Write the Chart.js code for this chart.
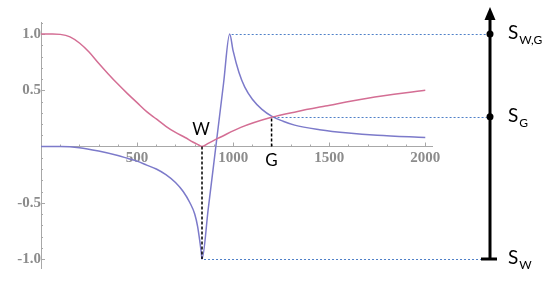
<!DOCTYPE html>
<html>
<head>
<meta charset="utf-8">
<script src="https://cdn.jsdelivr.net/npm/chart.js@4.4.1/dist/chart.umd.min.js"></script>
<style>
  html, body { margin: 0; padding: 0; background: #fff; }
</style>
</head>
<body>
<canvas id="resChart" width="550" height="285"></canvas>
<script>
// pink curve
const pinkX = [0, 60, 100, 151, 200, 250, 300, 350, 400, 450, 500, 550, 600, 650, 700, 750, 790, 818, 838, 870, 900, 930, 1040, 1200, 1330, 1480, 1700, 2000];
const pinkY = [1.0, 1.0, 0.997, 0.975, 0.92, 0.84, 0.74, 0.645, 0.555, 0.47, 0.39, 0.31, 0.245, 0.18, 0.125, 0.08, 0.04, 0.016, 0.0, 0.028, 0.055, 0.08, 0.17, 0.26, 0.31, 0.36, 0.43, 0.5];

// blue curve
const blueX = [0, 100, 200, 300, 400, 450, 500, 550, 600, 650, 700, 740, 775, 800, 815, 828, 834, 838, 870, 910, 950, 982, 1000, 1030, 1060, 1100, 1150, 1200, 1260, 1320, 1450, 1600, 1750, 2000];
const blueY = [0, 0, -0.01, -0.04, -0.08, -0.105, -0.13, -0.165, -0.2, -0.25, -0.32, -0.4, -0.5, -0.6, -0.71, -0.86, -0.94, -1.0, -0.56, 0.0, 0.56, 1.0, 0.85, 0.66, 0.53, 0.42, 0.33, 0.27, 0.225, 0.19, 0.15, 0.12, 0.10, 0.08];

const xTicks = [500, 1000, 1500, 2000];
const yTicks = [-1.0, -0.5, 0.5, 1.0];

// marked points
const wX = 838, gX = 1200, peakX = 982;
const sWG = 1.0, sG = 0.265, sW = -1.0;

const toPts = (xs, ys) => xs.map((v, i) => ({ x: v, y: ys[i] }));

// small inward tick marks like the original axes
const axisTicks = {
  id: 'axisTicks',
  beforeDatasetsDraw(chart) {
    const { ctx, scales: { x, y } } = chart;
    const x0 = x.getPixelForValue(0), y0 = y.getPixelForValue(0);
    ctx.save();
    ctx.strokeStyle = '#a8a8a8';
    ctx.lineWidth = 1;
    for (let v = 100; v <= 2000; v += 100) {
      const px = Math.round(x.getPixelForValue(v)) + 0.5;
      const len = v % 500 === 0 ? 4 : 2;
      ctx.beginPath(); ctx.moveTo(px, y0); ctx.lineTo(px, y0 - len); ctx.stroke();
    }
    for (let k = -10; k <= 11; k++) {
      if (k === 0) continue;
      const py = Math.round(y.getPixelForValue(k / 10)) + 0.5;
      const len = k % 5 === 0 ? 4 : 2;
      ctx.beginPath(); ctx.moveTo(x0, py); ctx.lineTo(x0 + len, py); ctx.stroke();
    }
    ctx.restore();
  }
};

// guide lines, labels and the S scale on the right
const annot = {
  id: 'annot',
  afterDatasetsDraw(chart) {
    const { ctx, chartArea, scales: { x, y } } = chart;
    const ax = chartArea.right + 58;
    const y0 = y.getPixelForValue(0);
    ctx.save();

    // blue dotted guides
    ctx.strokeStyle = '#4f80c8';
    ctx.lineWidth = 1;
    ctx.setLineDash([2, 2]);
    [[peakX, sWG], [gX, sG], [wX, sW]].forEach(([vx, vy]) => {
      const py = Math.round(y.getPixelForValue(vy)) + 0.5;
      ctx.beginPath(); ctx.moveTo(x.getPixelForValue(vx) + 2, py); ctx.lineTo(ax, py); ctx.stroke();
    });

    // black dashed drops
    ctx.strokeStyle = '#000';
    ctx.lineWidth = 1.5;
    ctx.setLineDash([3, 2]);
    [[wX, sW], [gX, sG]].forEach(([vx, vy]) => {
      const px = x.getPixelForValue(vx);
      ctx.beginPath(); ctx.moveTo(px, y0); ctx.lineTo(px, y.getPixelForValue(vy)); ctx.stroke();
    });
    ctx.setLineDash([]);

    // W and G
    ctx.fillStyle = '#000';
    ctx.font = '17px Lato, "Open Sans", sans-serif';
    ctx.textAlign = 'center';
    ctx.textBaseline = 'alphabetic';
    ctx.fillText('W', x.getPixelForValue(wX) - 1, y0 - 12);
    ctx.fillText('G', x.getPixelForValue(gX), y0 + 19);

    // vertical arrow
    const top = 7, yb = y.getPixelForValue(sW);
    ctx.lineWidth = 3;
    ctx.beginPath(); ctx.moveTo(ax, yb); ctx.lineTo(ax, top + 10); ctx.stroke();
    ctx.beginPath();
    ctx.moveTo(ax, top); ctx.lineTo(ax - 5.5, top + 13); ctx.lineTo(ax + 5.5, top + 13);
    ctx.closePath(); ctx.fill();
    ctx.beginPath(); ctx.moveTo(ax - 9, yb); ctx.lineTo(ax + 7, yb); ctx.stroke();
    [sWG, sG].forEach(v => {
      ctx.beginPath(); ctx.arc(ax, y.getPixelForValue(v), 3.5, 0, Math.PI * 2); ctx.fill();
    });

    // S labels with subscripts
    ctx.textAlign = 'left';
    [[sWG, 'W,G'], [sG, 'G'], [sW, 'W']].forEach(([v, sub]) => {
      const py = y.getPixelForValue(v);
      ctx.font = '19px Lato, "Open Sans", sans-serif';
      ctx.fillText('S', ax + 18, py + 5);
      const w = ctx.measureText('S').width;
      ctx.font = '12px Lato, "Open Sans", sans-serif';
      ctx.fillText(sub, ax + 18 + w + 1, py + 10);
    });
    ctx.restore();
  }
};

const tickFont = { family: '"Liberation Serif", "DejaVu Serif", serif', size: 15, weight: 'bold' };

new Chart(document.getElementById('resChart'), {
  type: 'line',
  data: {
    datasets: [
      {
        data: toPts(pinkX, pinkY),
        borderColor: 'rgb(212,110,148)',
        borderWidth: 1.5,
        pointRadius: 0,
        cubicInterpolationMode: 'monotone'
      },
      {
        data: toPts(blueX, blueY),
        borderColor: 'rgb(124,122,202)',
        borderWidth: 1.5,
        pointRadius: 0,
        cubicInterpolationMode: 'monotone'
      }
    ]
  },
  options: {
    responsive: false,
    animation: false,
    layout: { padding: { left: 41, right: 118, top: 22, bottom: 17 } },
    plugins: { legend: { display: false }, tooltip: { enabled: false } },
    scales: {
      x: {
        type: 'linear',
        min: 0,
        max: 2035,
        position: { y: 0 },
        grid: { display: false, drawTicks: false },
        border: { color: '#a8a8a8', width: 1 },
        afterBuildTicks: s => { s.ticks = xTicks.map(v => ({ value: v })); },
        ticks: { color: '#8c8c8c', font: tickFont, padding: 3, maxRotation: 0, callback: v => String(v) }
      },
      y: {
        type: 'linear',
        min: -1.08,
        max: 1.107,
        position: { x: 0 },
        grid: { display: false, drawTicks: false },
        border: { color: '#a8a8a8', width: 1 },
        afterBuildTicks: s => { s.ticks = yTicks.map(v => ({ value: v })); },
        ticks: { color: '#8c8c8c', font: tickFont, padding: 6, callback: v => v.toFixed(1) }
      }
    }
  },
  plugins: [axisTicks, annot]
});
</script>
</body>
</html>
